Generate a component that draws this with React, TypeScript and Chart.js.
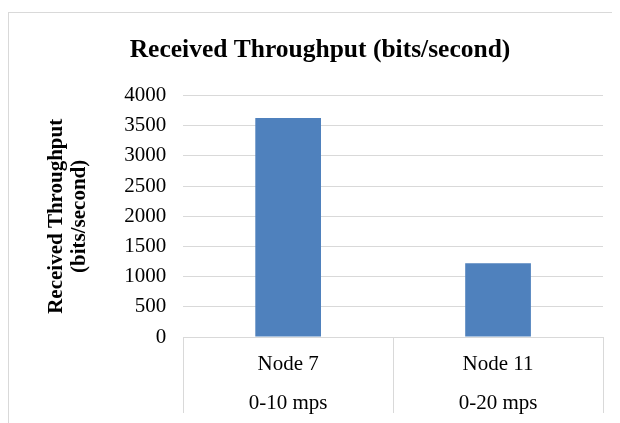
import React, { useEffect, useRef } from "react";
import { Chart, registerables } from "chart.js";

Chart.register(...registerables);

const categories: string[][] = [
  ["Node 7", "0-10 mps"],
  ["Node 11", "0-20 mps"],
];
const throughput: number[] = [3630, 1220];
const yTicks = { min: 0, max: 4000, step: 500 };
const chartTitle = "Received Throughput (bits/second)";
const yTitle = ["Received Throughput", "(bits/second)"];

const FONT = "'Liberation Serif', 'Times New Roman', serif";
const GRID = "#d9d9d9";

export default function App() {
  const ref = useRef<HTMLCanvasElement | null>(null);
  useEffect(() => {
    if (!ref.current) return;
    const chart = new Chart(ref.current, {
      type: "bar",
      data: {
        labels: categories,
        datasets: [
          {
            data: throughput,
            backgroundColor: "#4f81bd",
            borderWidth: 0,
            categoryPercentage: 1,
            barPercentage: 0.313,
          },
        ],
      },
      options: {
        animation: false,
        responsive: false,
        maintainAspectRatio: false,
        layout: { padding: { left: 28, right: 17, top: 0, bottom: 0 } },
        plugins: {
          legend: { display: false },
          tooltip: { enabled: false },
          title: {
            display: true,
            text: chartTitle,
            color: "#000",
            font: { family: FONT, size: 25.5, weight: "bold", lineHeight: 1.2 },
            padding: { top: 22, bottom: 30 },
          },
        },
        scales: {
          x: {
            grid: {
              display: true,
              offset: true,
              drawOnChartArea: false,
              drawTicks: true,
              tickLength: 76,
              color: GRID,
              lineWidth: 1,
            },
            border: { display: true, color: GRID, width: 1 },
            ticks: {
              color: "#000",
              font: { family: FONT, size: 21, lineHeight: 1.86 },
              padding: -68,
              maxRotation: 0,
              autoSkip: false,
            },
            afterFit: (scale: any) => {
              scale.height = 86;
            },
          },
          y: {
            min: yTicks.min,
            max: yTicks.max,
            grid: { color: GRID, lineWidth: 1, drawTicks: false },
            border: { display: false },
            ticks: {
              stepSize: yTicks.step,
              color: "#000",
              padding: 17,
              font: { family: FONT, size: 21 },
              callback: (v: any) => String(v),
            },
            title: {
              display: true,
              text: yTitle,
              color: "#000",
              font: { family: FONT, size: 21, weight: "bold", lineHeight: 1.1 },
              padding: { top: 8, bottom: 16 },
            },
          },
        },
      },
    });
    return () => chart.destroy();
  }, []);
  return (
    <div
      style={{
        marginTop: 4,
        width: 611,
        height: 410,
        borderLeft: `1px solid ${GRID}`,
        borderTop: `1px solid ${GRID}`,
        overflow: "hidden",
      }}
    >
      <canvas ref={ref} width={611} height={410} style={{ display: "block" }} />
    </div>
  );
}
